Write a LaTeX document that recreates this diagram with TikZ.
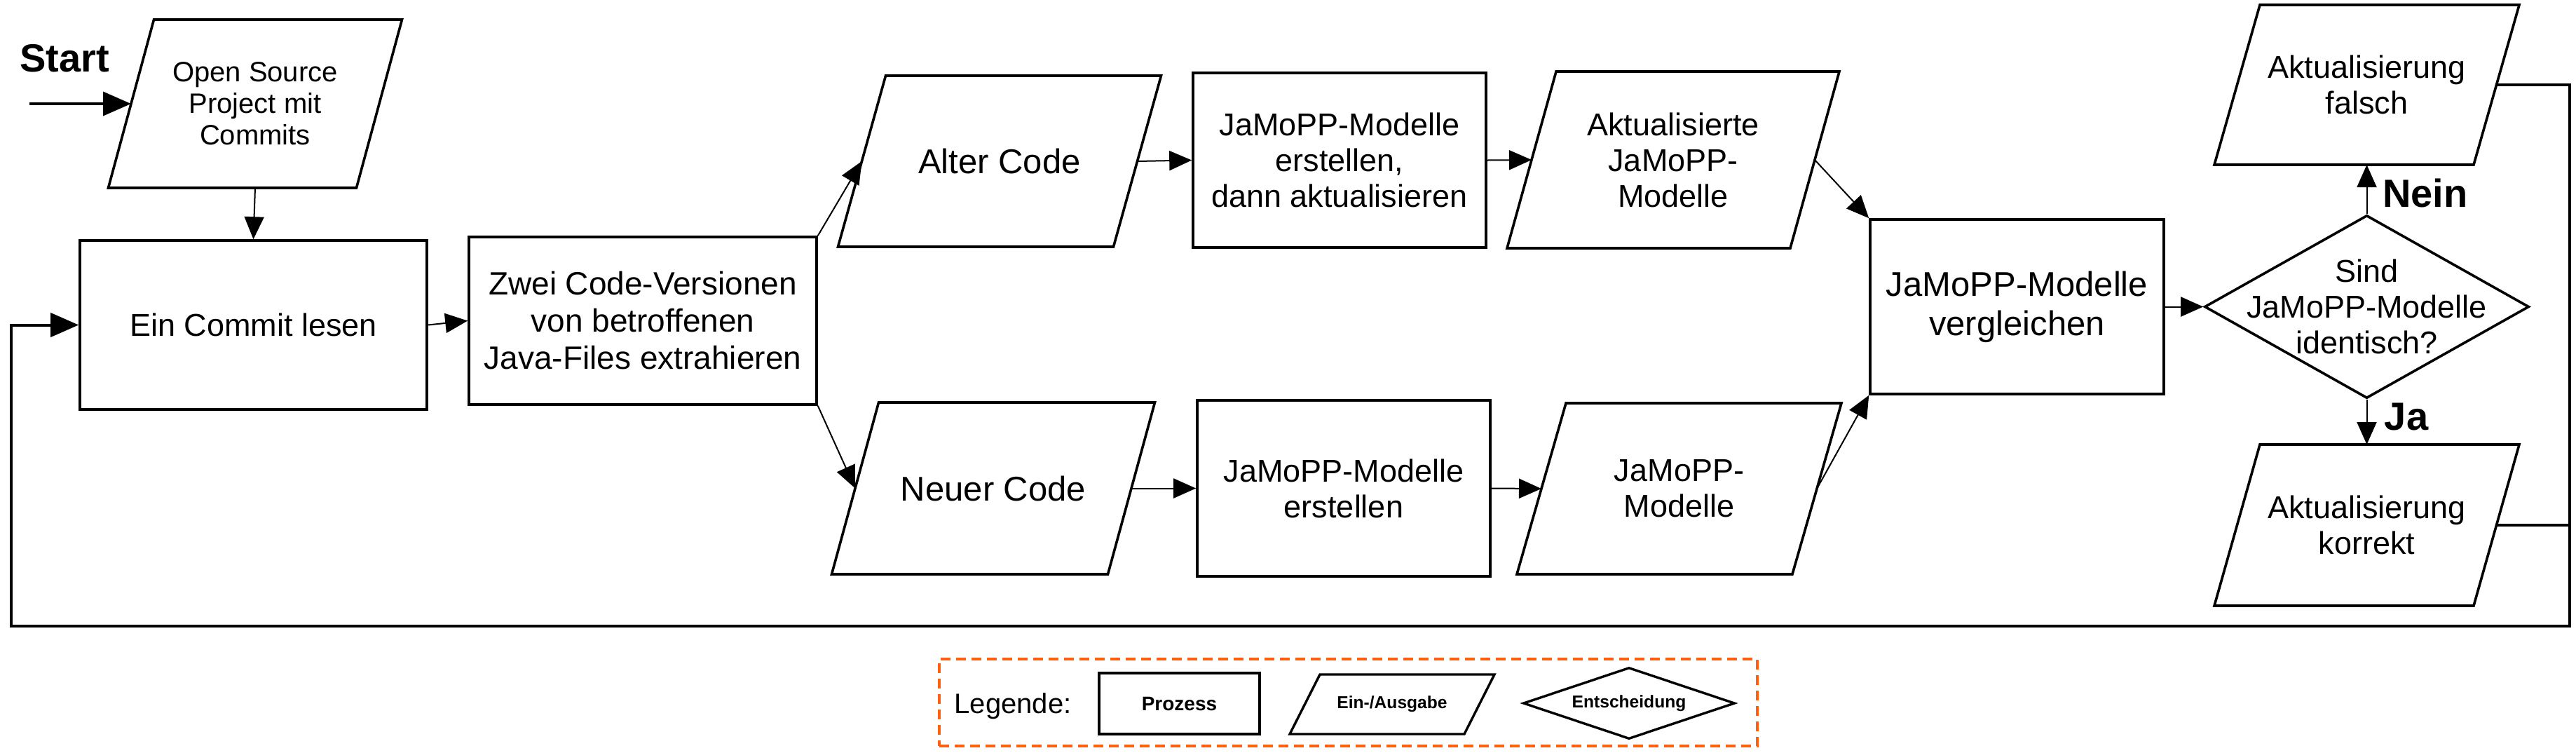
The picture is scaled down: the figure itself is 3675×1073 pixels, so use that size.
\documentclass[tikz,border=0pt]{standalone}
\usepackage{fontspec}
\setmainfont{Liberation Sans}
\usetikzlibrary{arrows.meta,shapes.geometric}
\definecolor{legor}{RGB}{255,96,16}
\newcommand\ioframe[3][1.8pt]{\draw[line width=#1] ([xshift=#3]#2.north west) -- ([xshift=#3]#2.north east) -- ([xshift=-#3]#2.south east) -- ([xshift=-#3]#2.south west) -- cycle;}
\tikzset{
  proc/.style={draw, line width=1.8pt, align=center, inner sep=0pt},
  iobox/.style={inner sep=0pt, outer sep=0pt, align=center},
  decision/.style={diamond, draw, line width=1.8pt, inner sep=0pt},
  tS/.style={font=\fontsize{20}{22.5}\selectfont},
  tM/.style={font=\fontsize{22.5}{25.5}\selectfont},
  tZ/.style={font=\fontsize{23}{26.5}\selectfont},
  tL/.style={font=\fontsize{24.5}{28}\selectfont},
  lbl/.style={font=\bfseries\fontsize{28}{32}\selectfont, inner sep=0pt},
  legsmall/.style={font=\bfseries\fontsize{12.3}{14}\selectfont},
  arr/.style={-{Triangle[length=16pt,width=14pt]}, line width=1pt},
  bigarr/.style={-{Triangle[length=20pt,width=17pt]}, line width=2pt},
  backline/.style={line width=2pt},
}
\begin{document}
\begin{tikzpicture}[x=0.5pt,y=-0.5pt]
\fill[white] (0,0) rectangle (3675,1073);
\useasboundingbox (0,0) rectangle (3675,1073);

% nodes
\node[lbl] (start) at (92,83) {Start};
\coordinate (s0) at (42,148);
\node[iobox,tS,minimum width=177pt,minimum height=120pt] (os) at (364,148) {Open Source\\Project mit\\Commits};
\ioframe{os}{16.25pt}
\node[proc,tM,minimum width=247.5pt,minimum height=120.5pt] (ein) at (361.5,463.5) {Ein Commit lesen};
\node[proc,tZ,minimum width=248pt,minimum height=119.5pt] (zwei) at (917,457.5) {Zwei Code-Versionen\\von betroffenen\\Java-Files extrahieren};
\node[iobox,tL,minimum width=196.5pt,minimum height=122pt] (alter) at (1426,230) {Alter Code};
\ioframe{alter}{17pt}
\node[proc,tM,minimum width=209pt,minimum height=124.5pt] (erst1) at (1911,228.5) {JaMoPP-Modelle\\erstellen,\\dann aktualisieren};
\node[iobox,tM,minimum width=202pt,minimum height=126pt] (akt) at (2387,228) {Aktualisierte\\JaMoPP-\\Modelle};
\ioframe{akt}{17.5pt}
\node[iobox,tL,minimum width=197pt,minimum height=122.5pt] (neu) at (1417,696.5) {Neuer Code};
\ioframe{neu}{16.75pt}
\node[proc,tM,minimum width=209pt,minimum height=125.5pt] (erst2) at (1917,696.5) {JaMoPP-Modelle\\erstellen};
\node[iobox,tM,minimum width=196.5pt,minimum height=122pt] (jm) at (2395.5,697) {JaMoPP-\\Modelle};
\ioframe{jm}{17.5pt}
\node[proc,tL,minimum width=209.5pt,minimum height=124.5pt] (verg) at (2877.5,437.5) {JaMoPP-Modelle\\vergleichen};
\node[decision,minimum width=231.5pt,minimum height=130.5pt] (dia) at (3376.5,437.5) {};
\node[tM,align=center,inner sep=0pt] (diatext) at (dia.center) {Sind\\JaMoPP-Modelle\\identisch?};
\node[iobox,tM,minimum width=185pt,minimum height=114pt] (falsch) at (3376.5,121) {Aktualisierung\\falsch};
\ioframe{falsch}{16.25pt}
\node[iobox,tM,minimum width=185pt,minimum height=115pt] (korr) at (3376.5,749) {Aktualisierung\\korrekt};
\ioframe{korr}{16.25pt}
\node[lbl] (nein) at (3460,275) {Nein};
\node[lbl] (ja) at (3433,594) {Ja};
\coordinate (rr) at (3666,893);
\coordinate (ll) at (16,893);

% connectors
\draw[bigarr] (s0) -- (os.west);
\draw[arr] (os.south) -- (ein.north);
\draw[arr] (ein.east) -- (zwei.west);
\draw[arr] (zwei.north east) -- (alter.west);
\draw[arr] (zwei.south east) -- (neu.west);
\draw[arr] (alter.east) -- (erst1.west);
\draw[arr] (erst1.east) -- (akt.west);
\draw[arr] (neu.east) -- (erst2.west);
\draw[arr] (erst2.east) -- (jm.west);
\draw[arr] (akt.east) -- (verg.north west);
\draw[arr] (jm.east) -- (verg.south west);
\draw[arr] (verg.east) -- (dia.west);
\draw[arr] (dia.north) -- (falsch.south);
\draw[arr] (dia.south) -- (korr.north);
\draw[backline,-{Triangle[length=20pt,width=17pt]}] (falsch.east) -| (rr) -- (ll) |- (ein.west);
\draw[backline] (korr.east) -- (korr.east -| rr);

% legend
\node[draw=legor, dash pattern=on 7pt off 4pt, line width=2pt, minimum width=583.5pt, minimum height=62pt, inner sep=0pt] (leg) at (1923.5,1002) {};
\node[font=\fontsize{20}{24}\selectfont, anchor=base, inner sep=0pt] (legt) at (1445,1017) {Legende:};
\node[proc, line width=1.7pt, font=\bfseries\fontsize{14}{16}\selectfont, minimum width=114.5pt, minimum height=43.5pt] (lp) at (1682.5,1003.5) {Prozess};
\node[iobox, legsmall, minimum width=124.5pt, minimum height=42.5pt] (lio) at (1986,1004.5) {Ein-/Ausgabe};
\ioframe[1.7pt]{lio}{10.75pt}
\node[decision, line width=1.7pt, minimum width=151pt, minimum height=51pt] (ld) at (2324,1003) {};
\node[legsmall, inner sep=0pt] (ldt) at (ld.center) {Entscheidung};
\end{tikzpicture}
\end{document}
